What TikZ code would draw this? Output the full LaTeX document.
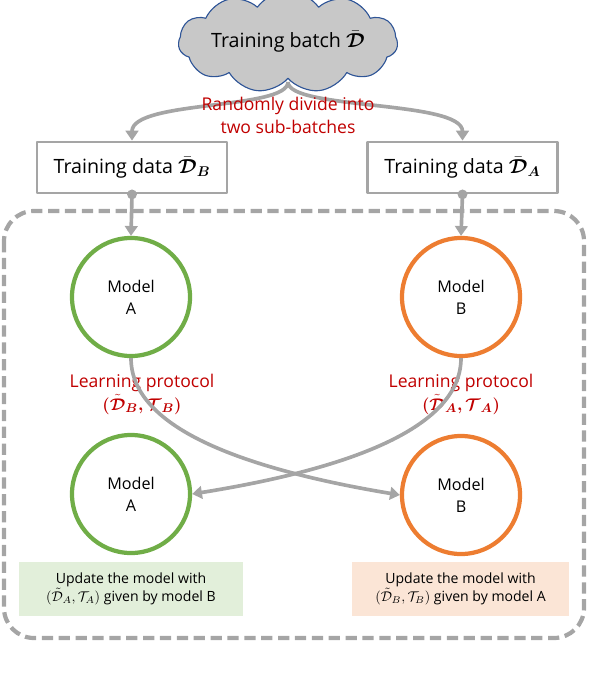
\documentclass[tikz,border=0pt]{standalone}
\usepackage{fontspec}
\setmainfont{Open Sans}
\usepackage{amsmath}
\usepackage{bm}
\usetikzlibrary{shapes.symbols,arrows.meta}
\definecolor{lgray}{RGB}{165,165,165}
\definecolor{mgreen}{RGB}{112,173,71}
\definecolor{morange}{RGB}{237,125,49}
\definecolor{dred}{RGB}{192,0,0}
\definecolor{cblue}{RGB}{47,85,151}
\definecolor{cgray}{RGB}{200,200,200}
\definecolor{lgreen}{RGB}{226,239,218}
\definecolor{lpeach}{RGB}{251,229,214}
\begin{document}
\begin{tikzpicture}[x=0.025cm,y=-0.025cm, line join=round, font=\fontsize{14}{16}\selectfont,
	link/.style={draw=lgray,line width=2.6pt,-{Triangle[width=9pt,length=7pt]}},
	databox/.style={draw=lgray,line width=2pt,minimum width=4.75cm,minimum height=1.275cm,inner sep=0},
	model/.style={circle,line width=3pt,minimum size=2.95cm,inner sep=0,align=center,font=\fontsize{11.5}{15.5}\selectfont},
	note/.style={align=center,text=dred,font=\fontsize{12.5}{16.3}\selectfont},
	updbox/.style={minimum height=1.35cm,align=center,font=\fontsize{10}{12.5}\selectfont}]
	\useasboundingbox (0,0) rectangle (588,676);
	\node[cloud,cloud puffs=11,cloud puff arc=110,aspect=3,draw=cblue,fill=cgray,thick,minimum width=5.45cm,minimum height=1.95cm,inner sep=0] (batch) at (288,42) {Training batch $\bar{\bm{\mathcal{D}}}$};
	\coordinate (split) at (288,82);
	\node[databox] (dataB) at (132,167.5) {Training data $\bar{\bm{\mathcal{D}}}_{\bm{B}}$};
	\node[databox] (dataA) at (462.5,167.5) {Training data $\bar{\bm{\mathcal{D}}}_{\bm{A}}$};
	\draw[link] (split) .. controls (288,110) and (132,100) .. (dataB.north);
	\draw[link] (split) .. controls (288,110) and (462.5,100) .. (dataA.north);
	\node[note] (divide) at (288,115) {Randomly divide into\\two sub-batches};
	\draw[lgray,line width=3pt,dash pattern=on 8pt off 4pt,rounded corners=0.75cm] (4,211) rectangle (584,638);
	\node[model,draw=mgreen] (A1) at (131,297) {Model\\A};
	\node[model,draw=morange] (B1) at (461,297) {Model\\B};
	\node[model,draw=mgreen] (A2) at (131,494) {Model\\A};
	\node[model,draw=morange] (B2) at (461,495) {Model\\B};
	\foreach \d/\m in {dataB/A1,dataA/B1}{
		\fill[lgray] (\d.south) circle (3.5pt);
		\draw[link] (\d.south) -- (\m.north);
	}
	\node[note] (protB) at (142,394) {Learning protocol\\$\bm{(\tilde{\mathcal{D}}_B,\mathcal{T}_B)}$};
	\node[note] (protA) at (461,394) {Learning protocol\\$\bm{(\tilde{\mathcal{D}}_A,\mathcal{T}_A)}$};
	\draw[link] (A1.south) .. controls (131,430) and (250,470) .. (B2.west);
	\draw[link] (B1.south) .. controls (461,430) and (342,470) .. (A2.east);
	\node[updbox,fill=lgreen,minimum width=5.6cm] (updA) at (131,589) {Update the model with\\$(\tilde{\mathcal{D}}_A,\mathcal{T}_A)$ given by model B};
	\node[updbox,fill=lpeach,minimum width=5.425cm] (updB) at (460.5,589) {Update the model with\\$(\tilde{\mathcal{D}}_B,\mathcal{T}_B)$ given by model A};
\end{tikzpicture}
\end{document}
